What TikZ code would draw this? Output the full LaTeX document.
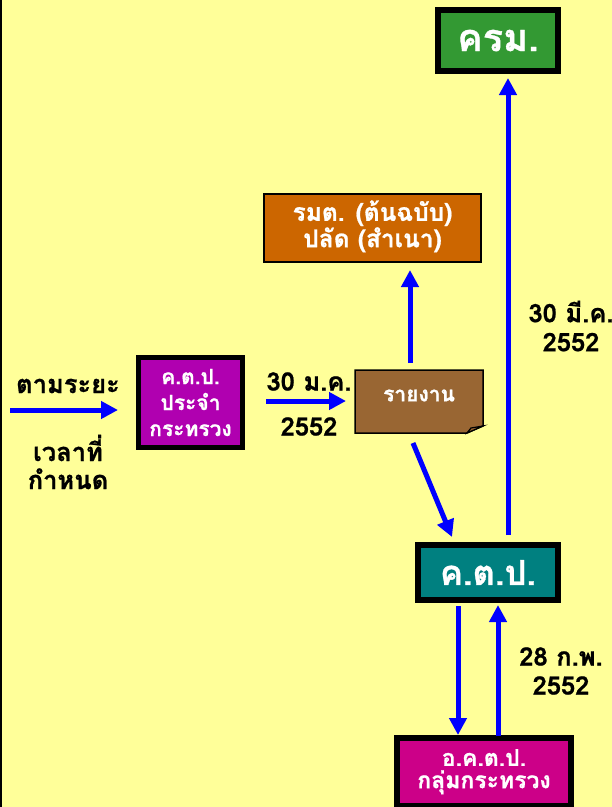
\documentclass[tikz,border=0pt]{standalone}
\usepackage{fontspec}
\setmainfont[Script=Thai, BoldFeatures={FakeBold=0.8}]{Loma}
\usetikzlibrary{arrows.meta}
\definecolor{bgc}{HTML}{FFFF99}
\definecolor{krmc}{HTML}{339933}
\definecolor{rmtc}{HTML}{CC6600}
\definecolor{repc}{HTML}{996633}
\definecolor{kpponec}{HTML}{B000B0}
\definecolor{kppc}{HTML}{008080}
\definecolor{okppc}{HTML}{CC0088}
\definecolor{arrc}{HTML}{0000FF}
\tikzset{
  thickbox/.style={draw=black, line width=6pt, inner sep=0pt, text=white, font=\bfseries, align=center},
  thinbox/.style={draw=black, line width=2pt, inner sep=0pt, text=white, font=\bfseries, align=center},
  lbl/.style={font=\bfseries\fontsize{25.5}{29}\selectfont, align=center, inner sep=0pt},
  arr/.style={draw=arrc, line width=5pt, -{Triangle[width=17pt,length=17pt]}},
}
\begin{document}
\begin{tikzpicture}[x=1pt,y=-1pt]
\useasboundingbox (0,0) rectangle (612,807);
\fill[bgc] (0,0) rectangle (612,807);
\draw[line width=2.5pt] (1,0) -- (1,807);

% boxes
\node[thickbox, fill=krmc, minimum width=120pt, minimum height=61pt,
      font=\bfseries\fontsize{38}{40}\selectfont] (krm) at (498,40.5) {\raisebox{-3pt}{ครม.}};
\node[thinbox, fill=rmtc, minimum width=217pt, minimum height=68pt,
      font=\bfseries\fontsize{24.5}{28}\selectfont] (rmt) at (372.5,228) {\raisebox{-4pt}{\begin{tabular}{@{}c@{}}รมต. (ต้นฉบับ)\\[-2pt]ปลัด (สำเนา)\end{tabular}}};
\node[thickbox, line width=5pt, fill=kpponec, minimum width=104pt, minimum height=90pt,
      font=\bfseries\fontsize{21}{26}\selectfont] (kpp1) at (190.5,402.5) {ค.ต.ป.\\ประจำ\\กระทรวง};
\node[thickbox, fill=kppc, minimum width=140pt, minimum height=55pt,
      font=\bfseries\fontsize{34.5}{36}\selectfont] (kpp) at (488,572.5) {\raisebox{-3pt}{ค.ต.ป.}};
\node[thickbox, fill=okppc, minimum width=174pt, minimum height=68pt,
      font=\bfseries\fontsize{23}{25}\selectfont] (okpp) at (484,772) {\raisebox{-5pt}{\begin{tabular}{@{}c@{}}อ.ค.ต.ป.\\[-3pt]กลุ่มกระทรวง\end{tabular}}};

% report (folded corner)
\node[minimum width=128pt, minimum height=63pt, inner sep=0pt, outer sep=0pt] (report) at (419,401.5) {};
\filldraw[fill=repc, draw=black, line width=1.5pt, line join=miter]
  (report.north west) -- (report.north east) -- ([yshift=7pt]report.south east)
  -- ([xshift=-16pt]report.south east) -- (report.south west) -- cycle;
\filldraw[fill=repc, draw=black, line width=1.2pt]
  ([xshift=-16pt]report.south east) -- ([xshift=-12pt,yshift=5pt]report.south east)
  -- ([yshift=7pt]report.south east) -- cycle;
\node[lbl, text=white, font=\bfseries\fontsize{21}{24}\selectfont] (reptxt) at ([yshift=6pt]report.center) {รายงาน};

% labels
\node[lbl] (l1) at (68,386) {ตามระยะ};
\node[lbl, font=\bfseries\fontsize{25.5}{28}\selectfont] (l2) at (68,462) {เวลาที่\\กำหนด};
\node[lbl, font=\bfseries\fontsize{25.5}{45}\selectfont] (d1) at (309,404) {30 ม.ค.\\2552};
\node[lbl] (d2) at (571,326) {30 มี.ค.\\2552};
\node[lbl] (d3) at (561,671) {28 ก.พ.\\2552};

% arrows
\coordinate (lstart) at (10,410);
\draw[arr] (lstart) -- ([xshift=-18pt,yshift=-7.5pt]kpp1.west);
\draw[arr] ([xshift=21pt,yshift=1.5pt]kpp1.east) -- ([xshift=-9pt,yshift=0.5pt]report.west);
\draw[arr] ([xshift=-9pt,yshift=7pt]report.north) -- ([xshift=37.5pt,yshift=-7pt]rmt.south);
\draw[arr] ([xshift=-6pt,yshift=-10pt]report.south) -- ([xshift=-36pt,yshift=5pt]kpp.north);
\draw[arr] ([xshift=20pt,yshift=7pt]kpp.north) -- ([xshift=10pt,yshift=-4pt]krm.south);
\draw[arr] ([xshift=-30pt,yshift=-3pt]kpp.south) -- ([xshift=-26pt,yshift=0pt]okpp.north);
\draw[arr] ([xshift=14pt,yshift=-1pt]okpp.north) -- ([xshift=10pt,yshift=-2pt]kpp.south);
\end{tikzpicture}
\end{document}
